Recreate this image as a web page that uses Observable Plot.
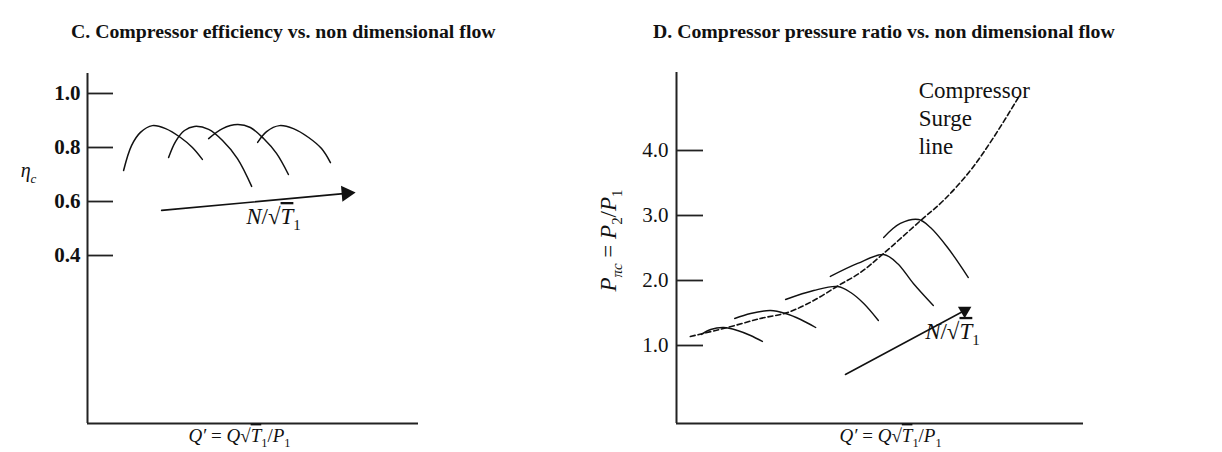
<!DOCTYPE html>
<html><head><meta charset="utf-8">
<script src="https://cdn.jsdelivr.net/npm/d3@7"></script>
<script src="https://cdn.jsdelivr.net/npm/@observablehq/plot@0.6"></script>
<style>
body{margin:0;background:#fff;}
#wrap{position:relative;width:1222px;height:452px;overflow:hidden;font-family:"Liberation Serif","Times New Roman",serif;color:#111;}
.title{position:absolute;top:22px;font-weight:bold;font-size:19.8px;line-height:1;white-space:nowrap;}
.panel{position:absolute;top:50px;}
</style></head><body>
<div id="wrap">
  <div class="title" id="tC" style="left:71px"></div>
  <div class="title" id="tD" style="left:653px"></div>
  <div class="panel" id="pC" style="left:0px"></div>
  <div class="panel" id="pD" style="left:560px"></div>
</div>
<script>
// ---------- data ----------
const panelTitles = ["C. Compressor efficiency vs. non dimensional flow",
                     "D. Compressor pressure ratio vs. non dimensional flow"];
const effTicks = [0.4, 0.6, 0.8, 1.0];
const effDomain = [-0.222, 1.074];
const flowDomain = [0, 10];
// efficiency curves: [Q', eta_c]
const effCurve1 = [[1.09,0.715],[1.33,0.807],[1.60,0.856],[1.96,0.881],[2.36,0.870],[2.81,0.837],[3.17,0.800],[3.47,0.756]];
const effCurve2 = [[2.45,0.763],[2.66,0.822],[2.93,0.863],[3.23,0.878],[3.66,0.867],[4.08,0.826],[4.53,0.759],[4.96,0.656]];
const effCurve3 = [[3.66,0.833],[4.08,0.870],[4.53,0.885],[4.92,0.874],[5.32,0.833],[5.71,0.778],[6.07,0.700]];
const effCurve4 = [[5.14,0.819],[5.41,0.859],[5.80,0.881],[6.22,0.870],[6.68,0.837],[7.07,0.796],[7.34,0.744]];
const effArrow = [[2.24,0.567],[7.82,0.630]];

const prTicks = [1, 2, 3, 4];
const prDomain = [-0.2, 5.2];
// pressure-ratio curves: [Q', Pr]
const prCurve1 = [[0.61,1.169],[0.84,1.246],[1.16,1.277],[1.50,1.231],[1.82,1.154],[2.11,1.062]];
const prCurve2 = [[1.43,1.415],[1.82,1.492],[2.31,1.538],[2.68,1.492],[3.05,1.400],[3.42,1.277]];
const prCurve3 = [[2.68,1.708],[3.37,1.846],[3.96,1.908],[4.28,1.815],[4.60,1.646],[4.96,1.385]];
const prCurve4 = [[3.78,2.062],[4.45,2.262],[5.09,2.400],[5.43,2.262],[5.82,1.954],[6.31,1.615]];
const prCurve5 = [[5.09,2.662],[5.50,2.877],[5.95,2.938],[6.24,2.815],[6.66,2.508],[7.17,2.046]];
const surgeLine = [[0.34,1.138],[1.25,1.277],[2.06,1.415],[2.73,1.508],[3.37,1.692],[3.98,1.923],[4.52,2.123],[5.06,2.400],[6.00,2.923],[6.56,3.231],[7.22,3.692],[7.79,4.200],[8.40,4.815]];
const prArrow = [[4.15,0.554],[7.08,1.538]];

// annotation texts and anchors (data units)
const effLabels = {eta: "ηc", speed: "N/√T1", flow: "Q′ = Q√T1/P1"};
const effSpeedAt = [5.62, 0.544];
const effEtaAt = 0.715;
const effFlowAt = 4.59;
const prLabels = {ratio: "Pπc = P2/P1", speed: "N/√T1 ", flow: "Q′ = Q√T1/P1 ", surge: "Compressor\nSurge\nline"};
const prSpeedAt = [6.78, 1.215];
const prSurgeAt = [5.95, 4.52];
const prRatioAt = 2.615;
const prFlowAt = 5.26;

// ---------- helpers ----------
const FONT = '"Liberation Serif","Times New Roman",serif';
const INK = "#111";
const toRows = (curves) => curves.flatMap((c, k) => c.map(([q, v]) => ({k, q, v})));
const pts = (a) => a.map(([q, v]) => ({q, v}));

// rebuild a plain text element as math-like tspans (i = italic, s = subscript, o = overline)
function rich(svg, content, F, segs) {
  const t = d3.select(svg).selectAll("text").filter(function() { return this.textContent === content; });
  t.each(function() {
    const el = d3.select(this);
    el.selectAll("*").remove();
    el.text(null);
    for (const [s, f] of segs) {
      const sp = el.append("tspan").text(s);
      if (f.includes("s")) sp.attr("font-size", F * 0.65).attr("baseline-shift", -F * 0.28);
      if (f.includes("i")) sp.attr("font-style", "italic");
      if (f.includes("o")) sp.style("text-decoration", "overline");
    }
  });
}

document.getElementById("tC").textContent = panelTitles[0];
document.getElementById("tD").textContent = panelTitles[1];

// ---------- panel C ----------
const plotC = Plot.plot({
  width: 560, height: 402,
  marginLeft: 87, marginRight: 142, marginTop: 23, marginBottom: 29,
  x: {domain: flowDomain, axis: null},
  y: {domain: effDomain, axis: null},
  style: {fontFamily: FONT, background: "transparent", color: INK, overflow: "visible"},
  marks: [
    Plot.ruleX([flowDomain[0]], {stroke: "#222", strokeWidth: 2}),
    Plot.ruleY([effDomain[0]], {stroke: "#222", strokeWidth: 2}),
    Plot.tickY(effTicks, {y: d => d, insetRight: 305, stroke: "#222", strokeWidth: 1.8}),
    Plot.axisY({ticks: effTicks, tickSize: 0, tickPadding: 7, tickFormat: d3.format(".1f"), label: null, fontSize: 21, fontWeight: "bold"}),
    Plot.line(toRows([effCurve1, effCurve2, effCurve3, effCurve4]), {x: "q", y: "v", z: "k", curve: "catmull-rom", stroke: INK, strokeWidth: 1.5}),
    Plot.line(pts(effArrow), {x: "q", y: "v", stroke: INK, strokeWidth: 1.6}),
    Plot.dot(pts(effArrow).slice(1), {x: "q", y: "v", symbol: "triangle", r: 6, rotate: 85, fill: INK, stroke: "none"}),
    Plot.text([effLabels.eta], {text: d => d, y: () => effEtaAt, frameAnchor: "left", textAnchor: "middle", dx: -59, fontSize: 20}),
    Plot.text([effLabels.speed], {text: d => d, x: () => effSpeedAt[0], y: () => effSpeedAt[1], textAnchor: "middle", fontSize: 23}),
    Plot.text([effLabels.flow], {text: d => d, x: () => effFlowAt, frameAnchor: "bottom", textAnchor: "middle", dy: 18, fontSize: 19})
  ]
});
document.getElementById("pC").appendChild(plotC);

// ---------- panel D ----------
const plotD = Plot.plot({
  width: 662, height: 402,
  marginLeft: 116, marginRight: 139, marginTop: 22, marginBottom: 29,
  x: {domain: flowDomain, axis: null},
  y: {domain: prDomain, axis: null},
  style: {fontFamily: FONT, background: "transparent", color: INK, overflow: "visible"},
  marks: [
    Plot.ruleX([flowDomain[0]], {stroke: "#222", strokeWidth: 2}),
    Plot.ruleY([prDomain[0]], {stroke: "#222", strokeWidth: 2}),
    Plot.tickY(prTicks, {y: d => d, insetRight: 380, stroke: "#222", strokeWidth: 1.8}),
    Plot.axisY({ticks: prTicks, tickSize: 0, tickPadding: 8, tickFormat: d3.format(".1f"), label: null, fontSize: 21}),
    Plot.line(toRows([prCurve1, prCurve2, prCurve3, prCurve4, prCurve5]), {x: "q", y: "v", z: "k", curve: "catmull-rom", stroke: INK, strokeWidth: 1.4}),
    Plot.line(pts(surgeLine), {x: "q", y: "v", curve: "catmull-rom", stroke: INK, strokeWidth: 1.6, strokeDasharray: "5,3"}),
    Plot.line(pts(prArrow), {x: "q", y: "v", stroke: INK, strokeWidth: 1.5}),
    Plot.dot(pts(prArrow).slice(1), {x: "q", y: "v", symbol: "triangle", r: 5, rotate: 180, fill: INK, stroke: "none"}),
    Plot.text([prLabels.surge], {text: d => d, x: () => prSurgeAt[0], y: () => prSurgeAt[1], textAnchor: "start", lineAnchor: "middle", lineHeight: 1.22, fontSize: 23}),
    Plot.text([prLabels.ratio], {text: d => d, y: () => prRatioAt, frameAnchor: "left", textAnchor: "middle", dx: -68, rotate: -90, fontSize: 23}),
    Plot.text([prLabels.speed], {text: d => d, x: () => prSpeedAt[0], y: () => prSpeedAt[1], textAnchor: "middle", fontSize: 23}),
    Plot.text([prLabels.flow], {text: d => d, x: () => prFlowAt, frameAnchor: "bottom", textAnchor: "middle", dy: 18, fontSize: 19})
  ]
});
document.getElementById("pD").appendChild(plotD);

// ---------- math-style labels ----------
const flowSegs = [["Q′","i"],[" = ",""],["Q","i"],["√",""],["T","io"],["1","s"],["/",""],["P","i"],["1","s"]];
const speedSegs = [["N","i"],["/",""],["√",""],["T","io"],["1","s"]];
rich(plotC, effLabels.eta, 20, [["η","i"],["c","is"]]);
rich(plotC, effLabels.speed, 23, speedSegs);
rich(plotC, effLabels.flow, 19, flowSegs);
rich(plotD, prLabels.ratio, 23, [["P","i"],["πc","is"],[" = ",""],["P","i"],["2","s"],["/",""],["P","i"],["1","s"]]);
rich(plotD, prLabels.speed, 23, speedSegs);
rich(plotD, prLabels.flow, 19, flowSegs);
</script>
</body></html>
